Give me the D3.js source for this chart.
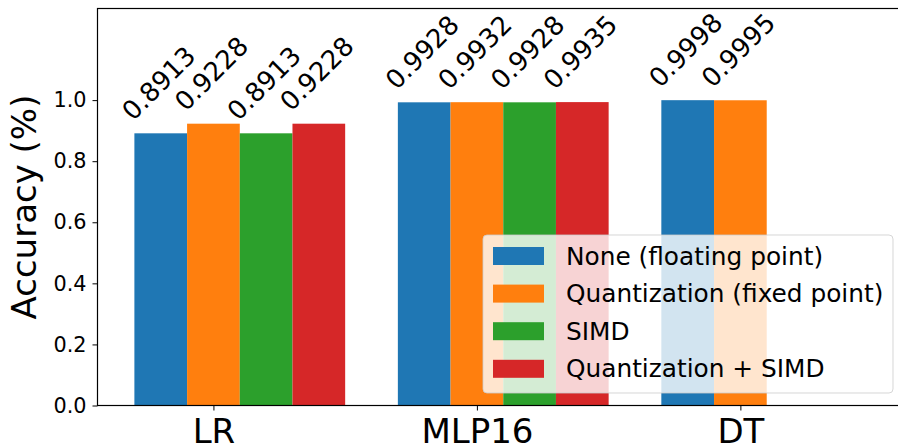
<!DOCTYPE html>
<html>
<head>
<meta charset="utf-8">
<script src="https://cdn.jsdelivr.net/npm/d3@7"></script>
<style>
  html, body { margin: 0; padding: 0; background: #fff; }
  svg { display: block; font-family: "DejaVu Sans", sans-serif; }
</style>
</head>
<body>
<script>
// ---- Data ----
const categories = ["LR", "MLP16", "DT"];
const seriesNames = ["None (floating point)", "Quantization (fixed point)", "SIMD", "Quantization + SIMD"];
const noneValues = [0.8913, 0.9928, 0.9998];
const quantValues = [0.9228, 0.9932, 0.9995];
const simdValues = [0.8913, 0.9928, null];
const quantSimdValues = [0.9228, 0.9935, null];
const yTicks = [0.0, 0.2, 0.4, 0.6, 0.8, 1.0];
const colors = ["#1f77b4", "#ff7f0e", "#2ca02c", "#d62728"];

const series = [noneValues, quantValues, simdValues, quantSimdValues];

const W = 898, H = 448;
const plot = { left: 97.5, right: 909, top: 8.5, bottom: 405.5 };
const barW = 0.2;

const svg = d3.select("body").append("svg").attr("width", W).attr("height", H);

const x = d3.scaleLinear().domain([-0.44, 2.64]).range([plot.left, plot.right]);
const y = d3.scaleLinear().domain([0, 1.3]).range([plot.bottom, plot.top]);

// Bars
series.forEach((vals, si) => {
  const g = svg.append("g");
  vals.forEach((v, ci) => {
    if (v == null) return;
    const cx = ci + (si - 1) * barW;
    g.append("rect")
      .attr("x", x(cx - barW / 2))
      .attr("width", x(cx + barW / 2) - x(cx - barW / 2))
      .attr("y", y(v))
      .attr("height", y(0) - y(v))
      .attr("fill", colors[si]);
  });
});

// Bar value labels (rotated 45deg)
series.forEach((vals, si) => {
  vals.forEach((v, ci) => {
    if (v == null) return;
    const cx = x(ci + (si - 1) * barW) - 2;
    const cy = y(v) - 50;
    svg.append("text")
      .attr("transform", `translate(${cx},${cy}) rotate(-45)`)
      .attr("text-anchor", "middle")
      .attr("dominant-baseline", "central")
      .attr("font-size", "26px")
      .attr("fill", "#000")
      .text(v.toFixed(4));
  });
});

// Axes
const yAxis = d3.axisLeft(y).tickValues(yTicks).tickSize(5).tickPadding(6).tickFormat(d3.format(".1f"));
const gy = svg.append("g").attr("transform", `translate(${plot.left},0)`).call(yAxis);
gy.select(".domain").remove();
gy.selectAll(".tick line").attr("stroke", "#000").attr("stroke-width", 1);
gy.selectAll(".tick text").attr("font-size", "20.8px").attr("font-family", "DejaVu Sans").attr("fill", "#000");

const xAxis = d3.axisBottom(x).tickValues([0, 1, 2]).tickSize(5).tickPadding(8).tickFormat(i => categories[i]);
const gx = svg.append("g").attr("transform", `translate(0,${plot.bottom})`).call(xAxis);
gx.select(".domain").remove();
gx.selectAll(".tick line").attr("stroke", "#000").attr("stroke-width", 1);
gx.selectAll(".tick text").attr("font-size", "34px").attr("font-family", "DejaVu Sans").attr("fill", "#000");

// Spines
svg.append("rect")
  .attr("x", plot.left).attr("y", plot.top)
  .attr("width", plot.right - plot.left).attr("height", plot.bottom - plot.top)
  .attr("fill", "none").attr("stroke", "#000").attr("stroke-width", 1.2);

// Y label
svg.append("text")
  .attr("transform", `translate(36,${(plot.top + plot.bottom) / 2}) rotate(-90)`)
  .attr("text-anchor", "middle")
  .attr("font-size", "34px")
  .attr("fill", "#000")
  .text("Accuracy (%)");

// Legend
const lg = svg.append("g");
lg.append("rect")
  .attr("x", 483).attr("y", 235).attr("width", 410).attr("height", 158)
  .attr("rx", 4).attr("ry", 4)
  .attr("fill", "#fff").attr("fill-opacity", 0.8)
  .attr("stroke", "#cccccc").attr("stroke-opacity", 0.8).attr("stroke-width", 1);
seriesNames.forEach((name, i) => {
  const cy = 256 + i * 37.6;
  lg.append("rect").attr("x", 493).attr("y", cy - 9).attr("width", 51).attr("height", 18).attr("fill", colors[i]);
  lg.append("text").attr("x", 566).attr("y", cy)
    .attr("dominant-baseline", "central")
    .attr("font-size", "24.8px").attr("fill", "#000")
    .text(name);
});
</script>
</body>
</html>
